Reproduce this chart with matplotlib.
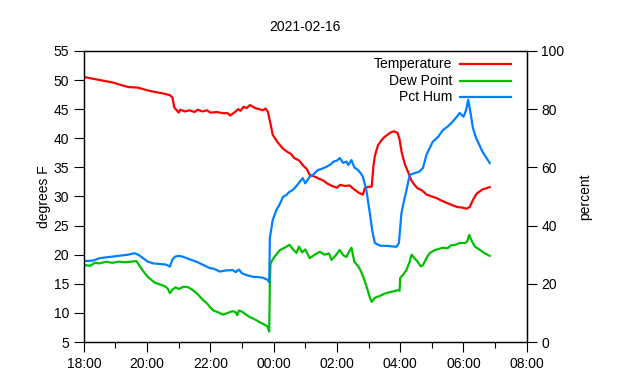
import numpy as np
import matplotlib
matplotlib.use('Agg')
import matplotlib.pyplot as plt
from matplotlib.ticker import FuncFormatter, MultipleLocator
from matplotlib.lines import Line2D

plt.rcParams['font.family'] = ['Liberation Sans', 'DejaVu Sans']

# hours since 2021-02-15 00:00
temp_t = [18.03, 18.3, 18.6, 18.9, 19.2, 19.4, 19.7, 19.9, 20.1, 20.3, 20.5, 20.72, 20.8, 20.86,
          20.92, 21.0, 21.05, 21.2, 21.35, 21.5, 21.6, 21.75, 21.9, 22.0, 22.2, 22.4, 22.55, 22.62,
          22.7, 22.8, 22.88, 22.95, 23.05, 23.15, 23.25, 23.35, 23.45, 23.55, 23.65, 23.75, 23.82,
          23.9, 23.97, 24.1, 24.2, 24.3, 24.45, 24.55, 24.65, 24.8, 24.95, 25.05, 25.14, 25.3, 25.45,
          25.55, 25.7, 25.85, 26.0, 26.1, 26.25, 26.4, 26.5, 26.6, 26.7, 26.82, 26.88, 26.95, 27.1,
          27.15, 27.2, 27.3, 27.4, 27.5, 27.6, 27.7, 27.8, 27.92, 27.98, 28.05, 28.15, 28.25, 28.35,
          28.45, 28.55, 28.7, 28.84, 29.0, 29.16, 29.3, 29.47, 29.6, 29.79, 29.95, 30.1, 30.2, 30.3,
          30.42, 30.6, 30.83]
temp_v = [50.5, 50.2, 49.9, 49.6, 49.1, 48.8, 48.7, 48.4, 48.1, 47.9, 47.7, 47.4, 47.0, 45.3,
          44.9, 44.4, 44.9, 44.6, 44.8, 44.5, 44.9, 44.6, 44.8, 44.4, 44.5, 44.3, 44.3, 43.9,
          44.2, 44.6, 45.0, 44.7, 45.4, 45.2, 45.7, 45.4, 45.1, 45.0, 44.8, 45.1, 44.5,
          42.5, 40.6, 39.5, 38.8, 38.2, 37.6, 37.3, 36.6, 36.2, 35.2, 34.7, 33.7, 33.4, 33.0,
          32.8, 32.2, 31.8, 31.5, 32.0, 31.8, 31.9, 31.4, 31.0, 30.6, 30.3, 31.4, 31.6, 31.7,
          35.0, 37.0, 38.8, 39.6, 40.2, 40.6, 41.0, 41.2, 40.9, 39.8, 37.5, 35.5, 34.2, 32.8,
          32.0, 31.4, 31.0, 30.3, 30.0, 29.7, 29.3, 28.9, 28.6, 28.2, 28.1, 27.9, 28.2, 29.4,
          30.5, 31.2, 31.6]

dew_t = [18.03, 18.2, 18.35, 18.5, 18.7, 18.9, 19.1, 19.3, 19.5, 19.66, 19.77, 19.9, 20.02, 20.15,
         20.24, 20.4, 20.55, 20.65, 20.72, 20.8, 20.9, 21.0, 21.15, 21.3, 21.45, 21.6, 21.77, 21.9,
         22.0, 22.1, 22.25, 22.4, 22.55, 22.7, 22.8, 22.85, 22.9, 23.0, 23.1, 23.24, 23.4, 23.56,
         23.7, 23.8, 23.86, 23.88, 23.9, 23.95, 24.05, 24.2, 24.35, 24.5, 24.6, 24.72, 24.8, 24.9,
         25.0, 25.14, 25.3, 25.46, 25.6, 25.75, 25.83, 25.95, 26.09, 26.2, 26.3, 26.38, 26.46, 26.55,
         26.7, 26.78, 26.88, 26.95, 27.05, 27.1, 27.2, 27.35, 27.5, 27.7, 27.93, 27.98, 28.0, 28.1,
         28.2, 28.3, 28.36, 28.45, 28.55, 28.65, 28.72, 28.85, 28.94, 29.1, 29.35, 29.5, 29.6, 29.75,
         29.88, 30.05, 30.12, 30.18, 30.25, 30.36, 30.5, 30.65, 30.83]
dew_v = [18.2, 18.1, 18.6, 18.5, 18.8, 18.6, 18.8, 18.7, 18.8, 18.9, 18.0, 17.0, 16.2, 15.6,
         15.2, 14.9, 14.6, 14.2, 13.4, 14.0, 14.4, 14.1, 14.5, 14.4, 13.9, 13.2, 12.2, 11.6,
         10.9, 10.4, 10.1, 9.7, 10.0, 10.3, 10.1, 9.6, 10.4, 10.2, 9.8, 9.3, 8.9, 8.4,
         8.0, 7.7, 6.8, 15.2, 18.4, 19.0, 19.8, 20.8, 21.2, 21.7, 21.0, 20.3, 21.4, 20.4,
         20.9, 19.4, 20.0, 20.5, 20.0, 20.2, 19.1, 19.8, 20.8, 19.9, 19.6, 20.5, 21.2, 18.8,
         17.8, 16.9, 15.5, 14.3, 12.5, 11.9, 12.6, 12.9, 13.3, 13.6, 13.9, 13.8, 16.0, 16.6,
         17.4, 18.8, 20.0, 19.4, 18.8, 18.0, 18.2, 19.6, 20.3, 20.8, 21.2, 21.1, 21.6, 21.7,
         22.0, 22.0, 22.3, 23.4, 22.5, 21.4, 20.9, 20.3, 19.8]

hum_t = [18.03, 18.3, 18.5, 18.8, 19.1, 19.4, 19.61, 19.75, 20.02, 20.2, 20.4, 20.6, 20.72, 20.8,
         20.88, 21.0, 21.13, 21.3, 21.45, 21.56, 21.75, 21.98, 22.1, 22.3, 22.5, 22.71, 22.8, 22.9,
         23.0, 23.14, 23.34, 23.5, 23.66, 23.82, 23.86, 23.88, 23.97, 24.09, 24.2, 24.29, 24.4, 24.5,
         24.6, 24.7, 24.83, 24.92, 25.0, 25.14, 25.25, 25.4, 25.5, 25.67, 25.8, 25.9, 26.0, 26.09,
         26.2, 26.3, 26.36, 26.46, 26.55, 26.66, 26.75, 26.82, 26.93, 27.04, 27.12, 27.2, 27.36, 27.6,
         27.88, 27.96, 28.04, 28.12, 28.2, 28.3, 28.45, 28.6, 28.72, 28.83, 28.95, 29.03, 29.2, 29.35,
         29.5, 29.66, 29.8, 29.88, 30.0, 30.08, 30.15, 30.22, 30.3, 30.4, 30.6, 30.83]
hum_v = [27.8, 28.0, 28.8, 29.2, 29.6, 30.0, 30.5, 29.8, 27.6, 27.0, 26.8, 26.6, 25.9, 28.3,
         29.3, 29.6, 29.3, 28.6, 28.0, 27.6, 26.6, 25.4, 25.2, 24.2, 24.6, 24.7, 24.0, 24.9,
         23.6, 23.0, 22.4, 22.3, 22.1, 21.3, 20.5, 35.7, 41.9, 45.4, 47.5, 49.8, 50.5, 51.6,
         52.2, 53.3, 55.1, 56.3, 54.5, 56.8, 57.5, 59.1, 59.4, 60.2, 61.0, 62.0, 62.3, 63.2,
         61.5, 62.0, 60.8, 62.5, 60.0, 59.1, 58.0, 56.8, 52.2, 44.3, 38.0, 34.0, 33.1, 33.0,
         32.7, 34.0, 44.3, 48.5, 52.2, 57.4, 58.0, 58.5, 59.8, 64.3, 67.0, 68.8, 70.5, 72.8,
         74.0, 75.7, 77.5, 78.7, 77.4, 79.5, 83.2, 79.0, 73.5, 70.1, 65.4, 61.5]

series_names = ['Temperature', 'Dew Point', 'Pct Hum']
series_colors = ['#ff0000', '#00c000', '#0080ff']

fig = plt.figure(figsize=(6.4, 3.8), dpi=100)
ax = fig.add_axes([0.131, 0.1, 0.692, 0.766])
ax2 = ax.twinx()

lw = 1.6
ax.plot(temp_t, temp_v, color=series_colors[0], lw=lw)
ax.plot(dew_t, dew_v, color=series_colors[1], lw=lw)
ax2.plot(hum_t, hum_v, color=series_colors[2], lw=lw)

ax.set_xlim(18, 32)
ax.set_ylim(5, 55)
ax2.set_ylim(0, 100)
ax.set_yticks(np.arange(5, 56, 5))
ax2.set_yticks(np.arange(0, 101, 20))
ax.xaxis.set_major_locator(MultipleLocator(2))
ax.xaxis.set_minor_locator(MultipleLocator(1))
ax.xaxis.set_major_formatter(FuncFormatter(lambda v, p: '%02d:00' % (int(round(v)) % 24)))

for a in (ax, ax2):
    a.tick_params(labelsize=10, length=7, width=0.8, direction='out')
    a.tick_params(which='minor', length=4, width=0.8, direction='out')
    for s in a.spines.values():
        s.set_linewidth(0.9)

ax.set_ylabel('degrees F', fontsize=10, labelpad=2)
ax2.set_ylabel('percent', fontsize=10, rotation=90, labelpad=10)
ax.set_title('2021-02-16', fontsize=10, pad=14)

# legend, text right-aligned with sample line on the right (gnuplot style)
for i, (name, col) in enumerate(zip(series_names, series_colors)):
    y = 0.956 - i * 0.058
    ax.text(0.832, y, name, transform=ax.transAxes, ha='right', va='center', fontsize=10)
    ax.add_line(Line2D([0.85, 0.965], [y, y], transform=ax.transAxes, color=col, lw=lw))

fig.savefig('out.png', dpi=100)
